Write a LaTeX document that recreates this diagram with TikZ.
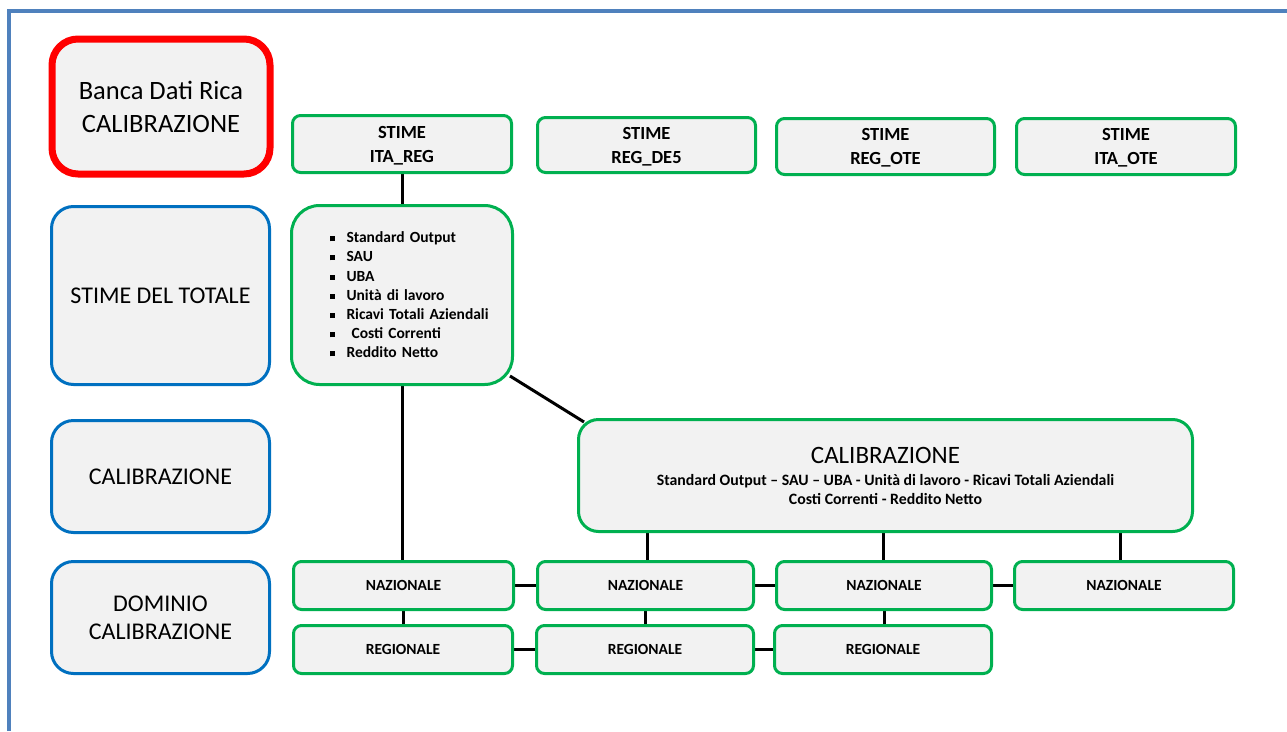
\documentclass[tikz,border=0pt]{standalone}
\usepackage{fontspec}
\setmainfont{Carlito}
\usetikzlibrary{backgrounds}
\definecolor{cornice}{RGB}{79,129,189}
\definecolor{blurica}{RGB}{0,112,192}
\definecolor{verderica}{RGB}{0,176,80}
\definecolor{fondo}{RGB}{242,242,242}
\newcommand{\punto}{\hspace*{26pt}\rule[1.5pt]{5pt}{5pt}\hspace{11.5pt}}
\begin{document}
\begin{tikzpicture}[x=1pt,y=-1pt,
   fase/.style={draw=blurica,line width=3pt,fill=fondo,rounded corners=22pt,
     minimum width=218pt,minimum height=112pt,align=center,inner sep=0pt,
     font=\fontsize{24}{28}\selectfont},
   gbox/.style={draw=verderica,line width=3pt,fill=fondo,rounded corners=8pt,
     align=center,inner sep=0pt,font=\bfseries\fontsize{18.5}{24}\selectfont},
   stimebox/.style={gbox,text depth=0pt},
   dombox/.style={gbox,minimum height=48pt,font=\bfseries\fontsize{15.5}{18}\selectfont},
   link/.style={line width=3pt,black}]
   \useasboundingbox (0,0) rectangle (1287,731);
   \draw [cornice,line width=4pt] (9,731) -- (9,11) -- (1287,11);
   \node [fase,draw=red,line width=7pt,rounded corners=26pt,minimum height=135pt,
     font=\fontsize{26.5}{33}\selectfont] (banca) at (161,106.5) {Banca Dati Rica\\CALIBRAZIONE};
   \node [fase,minimum height=178pt] (totale) at (160.5,295.5) {STIME DEL TOTALE};
   \node [fase] (calib) at (160.5,476.5) {CALIBRAZIONE};
   \node [fase] (dominio) at (160.5,617.5) {DOMINIO\\CALIBRAZIONE};
   \node [stimebox,minimum width=219pt,minimum height=57pt] (itareg) at (402,144) {STIME\\ITA\_REG};
   \node [stimebox,minimum width=218pt,minimum height=55pt] (regdes) at (646.5,145) {STIME\\REG\_DE5};
   \node [stimebox,minimum width=218pt,minimum height=56pt] (regote) at (885.5,146.5) {STIME\\REG\_OTE};
   \node [stimebox,minimum width=219pt,minimum height=56pt] (itaote) at (1126,146.5) {STIME\\ITA\_OTE};
   \node [gbox,rounded corners=28pt,minimum width=221pt,minimum height=179pt,align=left,
     text width=196pt,font=\bfseries\fontsize{15.5}{19.2}\selectfont] (voci) at (402,295)
     {\punto Standard Output\\\punto SAU\\\punto UBA\\\punto Unità di lavoro\\
      \punto Ricavi Totali Aziendali\\\punto\ Costi Correnti\\\punto Reddito Netto};
   \node [gbox,rounded corners=20pt,minimum width=614pt,minimum height=112pt,font=\bfseries\fontsize{15.8}{19}\selectfont]
     (calibra) at (885.5,475.5)
     {{\mdseries\fontsize{25}{28}\selectfont CALIBRAZIONE}\\[3pt]
      Standard Output -- SAU -- UBA - Unità di lavoro - Ricavi Totali Aziendali\\
      Costi Correnti - Reddito Netto};
   \node [dombox,minimum width=220pt] (naz1) at (403.5,585.5) {NAZIONALE};
   \node [dombox,minimum width=216pt] (naz2) at (645.5,585.5) {NAZIONALE};
   \node [dombox,minimum width=215pt] (naz3) at (884,585.5) {NAZIONALE};
   \node [dombox,minimum width=219pt] (naz4) at (1124,585.5) {NAZIONALE};
   \node [dombox,minimum width=219pt] (reg1) at (403,649.5) {REGIONALE};
   \node [dombox,minimum width=217pt] (reg2) at (645,649.5) {REGIONALE};
   \node [dombox,minimum width=217pt] (reg3) at (883,649.5) {REGIONALE};
   \begin{pgfonlayer}{background}
   \draw [link] (itareg.south) -- (voci.north);
   \draw [link] (voci.south) -- (voci.south |- naz1.north);
   \draw [link] ([xshift=-4pt,yshift=10pt]voci.south east) -- ([xshift=7pt,yshift=-4pt]calibra.north west);
   \draw [link] ([xshift=2pt]naz2.north) -- ([xshift=2pt]naz2.north |- calibra.south);
   \draw [link] ([xshift=-1pt]naz3.north) -- ([xshift=-1pt]naz3.north |- calibra.south);
   \draw [link] ([xshift=-4pt]naz4.north) -- ([xshift=-4pt]naz4.north |- calibra.south);
   \draw [link] (naz1) -- (naz2);
   \draw [link] (naz2) -- (naz3);
   \draw [link] (naz3) -- (naz4);
   \draw [link] (naz1.south) -- (naz1.south |- reg1.north);
   \draw [link] (naz2.south) -- (naz2.south |- reg2.north);
   \draw [link] (naz3.south) -- (naz3.south |- reg3.north);
   \draw [link] (reg1) -- (reg2);
   \draw [link] (reg2) -- (reg3);
   \end{pgfonlayer}
\end{tikzpicture}
\end{document}
